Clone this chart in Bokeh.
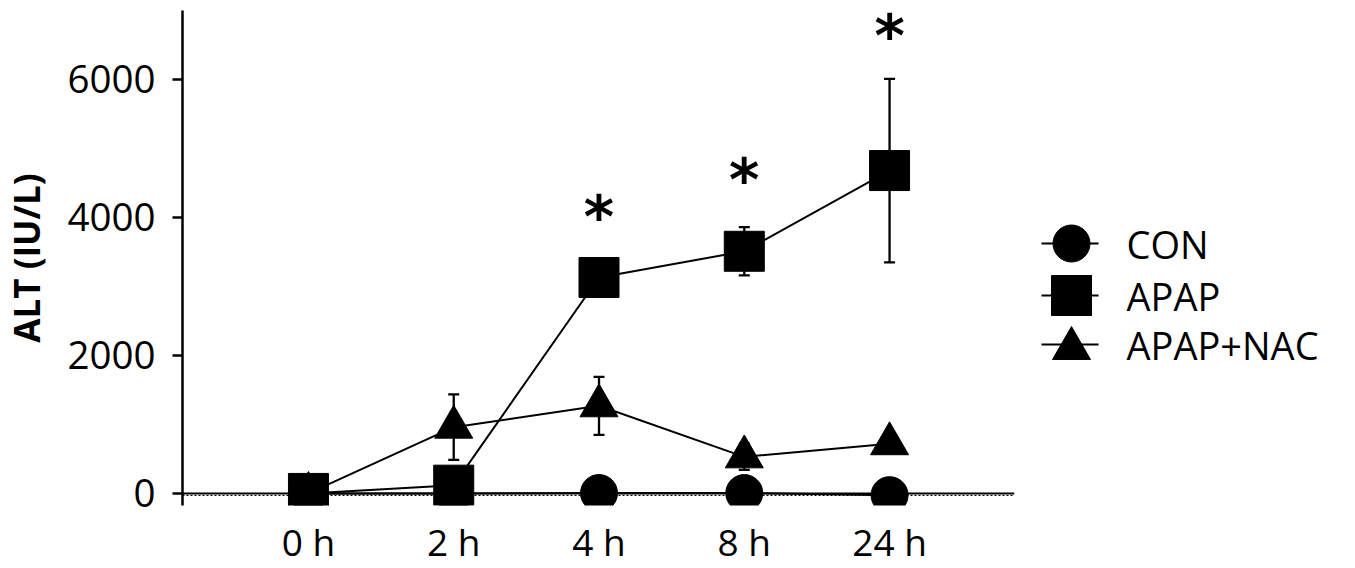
from bokeh.plotting import figure
from bokeh.models import Range1d, Span, FixedTicker
from bokeh.layouts import row
from bokeh.core.properties import value
from bokeh.embed import file_html
from bokeh.resources import INLINE

# ---- data ----
time_labels = ["0 h", "2 h", "4 h", "8 h", "24 h"]
con = [0, 0, 5, 5, -25]
apap = [0, 120, 3130, 3510, 4680]
apap_err = [0, 0, 0, 350, 1330]
nac = [0, 960, 1270, 530, 720]
nac_err = [0, 475, 420, 190, 0]
sig_idx = [2, 3, 4]
sig_y = [4210, 4740, 6840]
y_ticks = [0, 2000, 4000, 6000]
series_names = ["CON", "APAP", "APAP+NAC"]

FONT = "Open Sans"
xs = list(range(len(time_labels)))

p = figure(frame_width=832, frame_height=495,
           x_range=Range1d(-0.867, 4.86), y_range=Range1d(-175, 7000),
           output_backend="svg", toolbar_location=None,
           min_border_left=181, min_border_top=10, min_border_right=2,
           min_border_bottom=40)
p.outline_line_color = None
p.grid.visible = False
p.background_fill_color = "white"
p.border_fill_color = "white"

# y axis
ya = p.yaxis[0]
ya.ticker = FixedTicker(ticks=y_ticks)
ya.minor_tick_line_color = None
ya.major_tick_in = 0
ya.major_tick_out = 10
ya.major_tick_line_width = 2.5
ya.axis_line_width = 2.5
ya.axis_line_color = "black"
ya.major_tick_line_color = "black"
ya.major_label_text_font = FONT
ya.major_label_text_font_size = "38.5px"
ya.major_label_text_color = "black"
ya.major_label_standoff = 17
ya.axis_label = "ALT (IU/L)"
ya.axis_label_text_font = FONT
ya.axis_label_text_font_style = "bold"
ya.axis_label_text_font_size = "35px"
ya.axis_label_text_color = "black"
ya.axis_label_standoff = 14

# x axis: labels only
xa = p.xaxis[0]
xa.ticker = FixedTicker(ticks=xs)
xa.major_label_overrides = {i: t for i, t in zip(xs, time_labels)}
xa.axis_line_color = None
xa.major_tick_line_color = None
xa.minor_tick_line_color = None
xa.major_label_text_font = FONT
xa.major_label_text_font_size = "37px"
xa.major_label_text_color = "black"
xa.major_label_standoff = 4

# baseline at zero
p.add_layout(Span(location=0, dimension="width", line_color="black", line_width=2))
p.add_layout(Span(location=-30, dimension="width", line_color="black", line_width=1, line_dash="2 2"))

def errorbars(vals, errs):
    xi = [x for x, e in zip(xs, errs) if e > 0]
    lo = [v - e for v, e in zip(vals, errs) if e > 0]
    hi = [v + e for v, e in zip(vals, errs) if e > 0]
    p.segment(x0=xi, y0=lo, x1=xi, y1=hi, line_color="black", line_width=2.3)
    p.scatter(x=xi + xi, y=lo + hi, marker="dash", size=11, line_color="black", line_width=2.3)

# CON
p.line(xs, con, line_color="black", line_width=2)
p.scatter(xs, con, marker="circle", size=37, fill_color="black", line_color="black")
# APAP+NAC
errorbars(nac, nac_err)
p.line(xs, nac, line_color="black", line_width=2)
p.scatter(xs, nac, marker="triangle", size=38, fill_color="black", line_color="black")
# APAP
errorbars(apap, apap_err)
p.line(xs, apap, line_color="black", line_width=2)
p.scatter(xs, apap, marker="square", size=40, fill_color="black", line_color="black")

# significance marks
p.text(x=sig_idx, y=sig_y, text=["*"] * len(sig_idx), text_font=value("DejaVu Sans"),
       text_font_style="bold", text_font_size="58px", text_align="center",
       text_baseline="top", text_color="black", y_offset=-20)

# ---- legend panel ----
lg = figure(frame_width=320, frame_height=540, x_range=Range1d(0, 320), y_range=Range1d(540, 0),
            output_backend="svg", toolbar_location=None,
            x_axis_location=None, y_axis_location=None, min_border=0)
lg.outline_line_color = None
lg.grid.visible = False
lg.border_fill_color = "white"
lg.background_fill_color = "white"

row_y = [233, 285, 334]
markers = ["circle", "square", "triangle"]
msize = [37, 40, 38]
moff = [0, 0, 4]
for name, yy, m, s, o in zip(series_names, row_y, markers, msize, moff):
    lg.segment(x0=[25], y0=[yy], x1=[82], y1=[yy], line_color="black", line_width=2)
    lg.scatter(x=[55], y=[yy + o], marker=m, size=s, fill_color="black", line_color="black")
    lg.text(x=[110], y=[yy], text=[name], text_font=value(FONT), text_font_size="38px",
            text_baseline="middle", text_align="left", text_color="black")

layout = row(p, lg)
open("out.html", "w").write(file_html(layout, INLINE))
